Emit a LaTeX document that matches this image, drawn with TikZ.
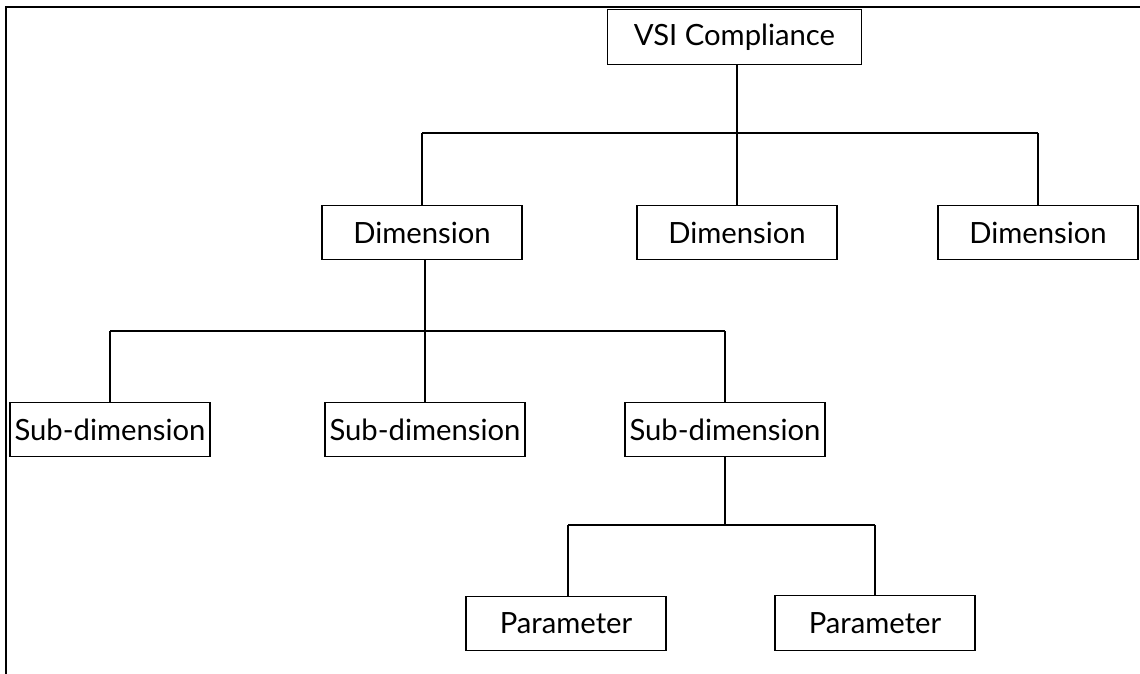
\documentclass[tikz,border=0pt]{standalone}
\usepackage{fontspec}
\setmainfont{Lato}
\begin{document}
\begin{tikzpicture}[x=0.025cm, y=-0.025cm,
    box/.style={draw, line width=0.9pt, inner sep=0pt, minimum width=5cm, minimum height=1.36cm, font=\fontsize{20.8}{25}\selectfont},
    link/.style={line width=1pt}]
      \useasboundingbox (0,0) rectangle (1140,674);
      \draw [line width=1.4pt] (6,674) -- (6,7) -- (1140,7);

      \node [box, minimum width=6.35cm] (vsi) at (734.5,37) {VSI Compliance};

      \node [box] (dimA) at (422,232.5) {Dimension};
      \node [box] (dimB) at (737,232.5) {Dimension};
      \node [box] (dimC) at (1038,232.5) {Dimension};

      \node [box] (subA) at (110,429.5) {Sub-dimension};
      \node [box] (subB) at (425,429.5) {Sub-dimension};
      \node [box] (subC) at (725,429.5) {Sub-dimension};

      \node [box] (parA) at (566,623.5) {Parameter};
      \node [box] (parB) at (875,623) {Parameter};

      % bars
      \coordinate (barL1) at (422,133);
      \coordinate (barR1) at (1038,133);
      \coordinate (barL2) at (110,331);
      \coordinate (barR2) at (725,331);
      \coordinate (barL3) at (568,525);
      \coordinate (barR3) at (875,525);

      \draw [link] (barL1) -- (barR1);
      \draw [link] (vsi.south -| dimB) -- (dimB);
      \draw [link] (dimA) -- (dimA |- barL1);
      \draw [link] (dimC) -- (dimC |- barL1);

      \draw [link] (barL2) -- (barR2);
      \draw [link] (dimA.south -| subB) -- (subB);
      \draw [link] (subA) -- (subA |- barL2);
      \draw [link] (subC) -- (subC |- barL2);

      \draw [link] (barL3) -- (barR3);
      \draw [link] (subC) -- (subC |- barL3);
      \draw [link] (parA.north -| barL3) -- (barL3);
      \draw [link] (parB) -- (parB |- barR3);
\end{tikzpicture}
\end{document}
